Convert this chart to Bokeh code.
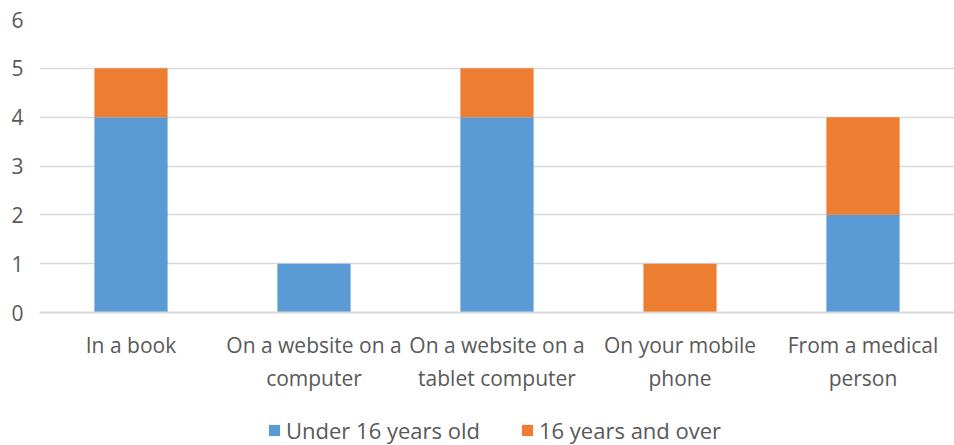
from bokeh.plotting import figure
from bokeh.layouts import column
from bokeh.models import Legend, LegendItem, Range1d, FixedTicker
from bokeh.embed import file_html
from bokeh.resources import INLINE

categories = ["In a book", "On a website on a\ncomputer", "On a website on a\ntablet computer",
              "On your mobile\nphone", "From a medical\nperson"]
under16 = [4, 1, 4, 0, 2]
over16 = [1, 0, 1, 1, 2]
series = ["Under 16 years old", "16 years and over"]
colors = ["#5b9bd5", "#ed7d31"]

FONT = "Open Sans"
GREY = "#595959"

p = figure(x_range=categories, y_range=Range1d(0, 6), width=954, height=400,
           min_border_left=39, min_border_top=19, min_border_right=0, min_border_bottom=88,
           output_backend="svg", toolbar_location=None)

data = {"cat": categories, "u": under16, "o": over16}
rs = p.vbar_stack(["u", "o"], x="cat", width=0.4, source=data, color=colors, line_color=None)

p.outline_line_color = None
p.xgrid.grid_line_color = None
p.ygrid.grid_line_color = "#d9d9d9"
p.ygrid.grid_line_width = 1.5
p.yaxis.ticker = FixedTicker(ticks=[0, 1, 2, 3, 4, 5, 6])
p.yaxis.axis_line_color = None
p.yaxis.major_tick_line_color = None
p.yaxis.minor_tick_line_color = None
p.yaxis.major_label_standoff = 10
p.xaxis.axis_line_color = "#d9d9d9"
p.xaxis.axis_line_width = 2
p.xaxis.major_tick_line_color = None
p.xaxis.major_label_standoff = 12
for ax in (p.xaxis, p.yaxis):
    ax.major_label_text_font = FONT
    ax.major_label_text_font_size = "21px"
    ax.major_label_text_color = GREY

# Legend in a small companion figure below the chart (zero-size proxy glyphs)
lf = figure(width=954, height=45, min_border=0, x_axis_type=None, y_axis_type=None,
            x_range=Range1d(0, 1), y_range=Range1d(0, 1),
            output_backend="svg", toolbar_location=None)
lf.outline_line_color = None
lf.xgrid.grid_line_color = None
lf.ygrid.grid_line_color = None
proxies = [lf.vbar(x=[0], top=[0], width=0, fill_color=c, line_color=None) for c in colors]
legend = Legend(items=[LegendItem(label=s, renderers=[r]) for s, r in zip(series, proxies)],
                orientation="horizontal", location=(228, 0),
                label_text_font=FONT, label_text_font_size="22px", label_text_color=GREY,
                glyph_width=14, glyph_height=14, spacing=40, border_line_color=None,
                background_fill_alpha=0, margin=0, padding=2, label_standoff=5)
lf.add_layout(legend, "center")

layout = column(p, lf, spacing=0)
open("out.html", "w").write(file_html(layout, INLINE))
